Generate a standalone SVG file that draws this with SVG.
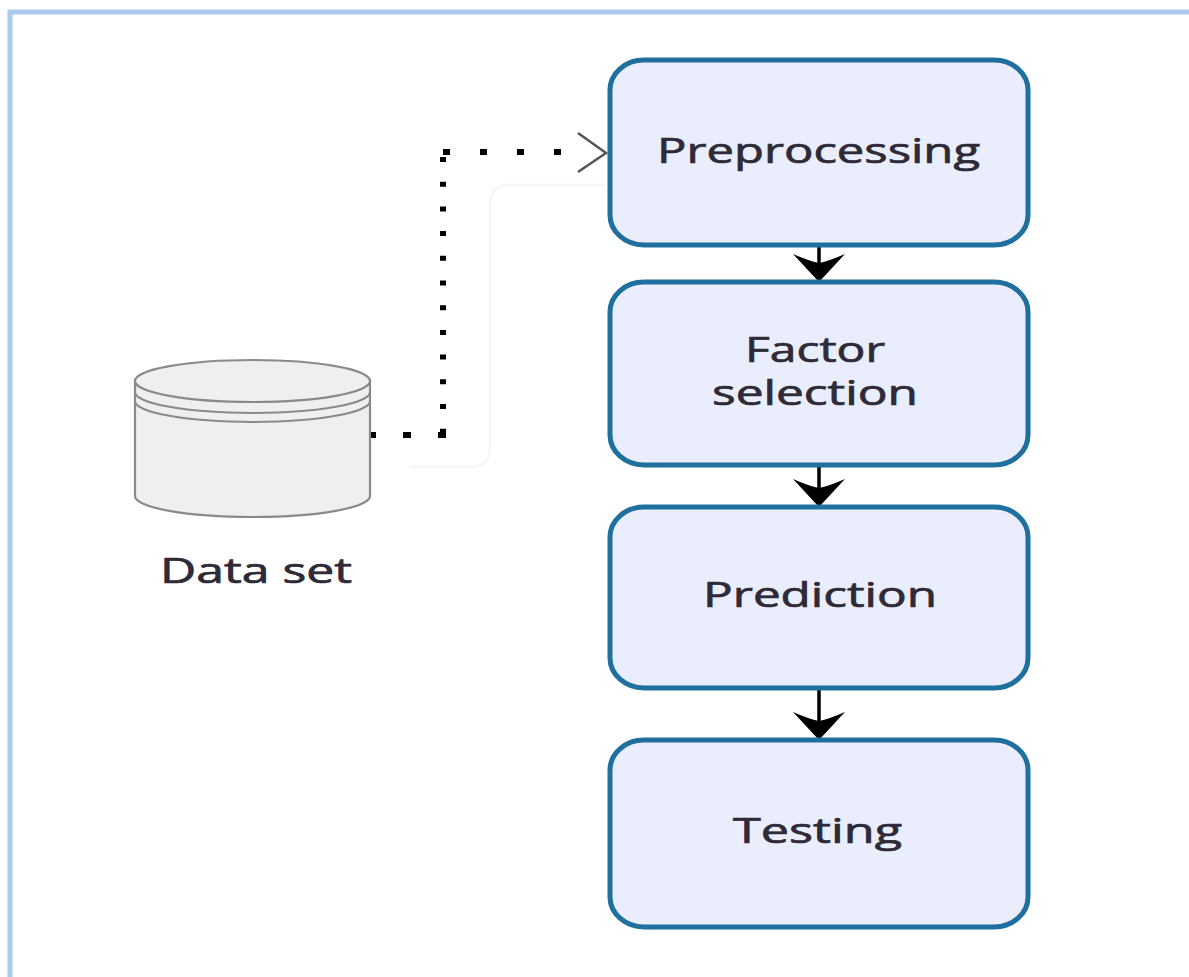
<svg xmlns="http://www.w3.org/2000/svg" width="1189" height="977" viewBox="0 0 1189 977">
<defs>
<style>
.box{fill:#eaeefc;stroke:#1f6f9f;stroke-width:5}
.lbl{font-family:"Open Sans","DejaVu Sans",sans-serif;font-size:34px;fill:#2e2a38;stroke:#2e2a38;stroke-width:0.7;text-anchor:middle}
.flow{stroke:#000;stroke-width:3.5;fill:none}
.dot{stroke:#000;fill:none}
.cyl{fill:#efefef;stroke:#8a8a8a;stroke-width:2.2}
</style>
<path id="ah" d="M0,0 L-26,-28 Q-10,-21 0,-19 Q10,-21 26,-28 Z" fill="#000"/>
</defs>
<rect width="1189" height="977" fill="#fff"/>
<rect x="10" y="12" width="1300" height="1100" fill="none" stroke="#abcaee" stroke-width="5"/>

<g id="connectors">
<path d="M410,467 H470 Q490,467 490,447 V205 Q490,185 510,185 H606" fill="none" stroke="#f7f7f7" stroke-width="3"/>
<path class="dot" d="M368,435 H446" stroke-width="6" stroke-dasharray="8 27"/>
<path class="dot" d="M443,157 V432" stroke-width="6" stroke-dasharray="5 19.7"/>
<path class="dot" d="M443,152 H568" stroke-width="6" stroke-dasharray="7 30"/>
<path d="M578,133 L606,153 L578,172" fill="none" stroke="#555" stroke-width="2.5"/>
<path class="flow" d="M819,245 V265"/>
<use href="#ah" x="819" y="282"/>
<path class="flow" d="M819,465 V490"/>
<use href="#ah" x="819" y="507"/>
<path class="flow" d="M819,688 V722"/>
<use href="#ah" x="819" y="740"/>
</g>

<g id="dataset">
<path class="cyl" d="M135,381 V496 A117.5,21 0 0 0 370,496 V381 Z"/>
<ellipse class="cyl" cx="252.5" cy="381" rx="117.5" ry="21"/>
<path d="M135,392 A117.5,21 0 0 0 370,392" fill="none" stroke="#8a8a8a" stroke-width="2"/>
<path d="M135,401 A117.5,21 0 0 0 370,401" fill="none" stroke="#8a8a8a" stroke-width="2"/>
<text class="lbl" x="256" y="583" textLength="192" lengthAdjust="spacingAndGlyphs">Data set</text>
</g>

<g id="preprocessing">
<rect class="box" x="610" y="60" width="418" height="185" rx="34" ry="30"/>
<text class="lbl" x="818.5" y="163" textLength="323" lengthAdjust="spacingAndGlyphs">Preprocessing</text>
</g>

<g id="factor-selection">
<rect class="box" x="610" y="282" width="418" height="183" rx="34" ry="30"/>
<text class="lbl" x="815" y="362" textLength="140" lengthAdjust="spacingAndGlyphs">Factor</text>
<text class="lbl" x="815" y="405" textLength="206" lengthAdjust="spacingAndGlyphs">selection</text>
</g>

<g id="prediction">
<rect class="box" x="610" y="507" width="418" height="181" rx="34" ry="30"/>
<text class="lbl" x="820" y="607" textLength="234" lengthAdjust="spacingAndGlyphs">Prediction</text>
</g>

<g id="testing">
<rect class="box" x="610" y="740" width="418" height="187" rx="34" ry="30"/>
<text class="lbl" x="817.5" y="843" textLength="169" lengthAdjust="spacingAndGlyphs">Testing</text>
</g>
</svg>
